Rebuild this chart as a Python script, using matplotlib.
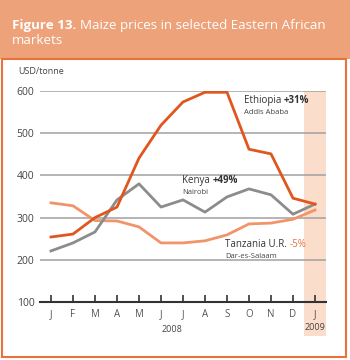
import matplotlib
matplotlib.use("Agg")
from matplotlib import pyplot as plt
from matplotlib.patches import Rectangle
from matplotlib.transforms import offset_copy

months = ["J", "F", "M", "A", "M", "J", "J", "A", "S", "O", "N", "D", "J"]
ethiopia = [254, 261, 300, 325, 441, 519, 574, 597, 597, 462, 451, 346, 332]
kenya = [221, 240, 266, 342, 380, 325, 342, 313, 349, 368, 354, 308, 332]
tanzania = [335, 328, 293, 292, 278, 240, 240, 245, 259, 285, 287, 296, 318]
yticks = [100, 200, 300, 400, 500, 600]

plt.rcParams['font.family'] = ['Open Sans', 'DejaVu Sans']

fig = plt.figure(figsize=(3.5, 3.6), dpi=100)
renderer = fig.canvas.get_renderer()


def text_run(x, y, parts, transform, **kw):
    # draw text pieces one after another on the same baseline
    t = transform
    for s, props in parts:
        opts = dict(kw)
        opts.update(props)
        txt = fig.text(x, y, s, transform=t, **opts)
        w = txt.get_window_extent(renderer).width
        t = offset_copy(txt.get_transform(), fig=fig, x=w, units='dots')


# header band and frame
fig.patches.append(Rectangle((0, 1 - 59/360), 1, 59/360, transform=fig.transFigure,
                             facecolor='#EDA27A', edgecolor='none', zorder=0))
fig.patches.append(Rectangle((2/350, 3/360), 344/350, (360 - 62)/360, transform=fig.transFigure,
                             facecolor='white', edgecolor='#E8733A', linewidth=1.5, zorder=0))
text_run(12/350, 1 - 25/360, [("Figure 13. ", dict(fontweight='bold')), ("Maize prices in selected Eastern African", {})],
         fig.transFigure, color='white', fontsize=9.6, va='center')
fig.text(12/350, 1 - 41/360, "markets", color='white', fontsize=9.6, va='center')

ax = fig.add_axes([40/350, 1 - 302/360, 286/350, 211/360], zorder=2)
x = range(len(months))

ax.axvspan(11.5, 12.5, ymin=-0.16, ymax=1, clip_on=False, color='#FBDDCB', zorder=0, lw=0)
for yv in yticks[1:]:
    ax.axhline(yv, color='#A0A0A0', lw=1.1, zorder=1)

ax.plot(x, tanzania, color='#F2946A', lw=2, zorder=3)
ax.plot(x, kenya, color='#8C8C8C', lw=2, zorder=3)
ax.plot(x, ethiopia, color='#E0561E', lw=2, zorder=4)

ax.set_xlim(-0.5, 12.5)
ax.set_ylim(100, 600)
ax.set_yticks(yticks)
ax.set_xticks(list(x))
ax.set_xticklabels(months)
for s in ['top', 'right', 'left']:
    ax.spines[s].set_visible(False)
ax.spines['bottom'].set_color('#333333')
ax.spines['bottom'].set_linewidth(1.5)
ax.tick_params(axis='x', direction='in', length=5, width=1.2, color='#333333',
               labelsize=7, labelcolor='#555555', pad=5)
ax.tick_params(axis='y', length=0, labelsize=7.5, labelcolor='#444444', pad=4)
ax.patch.set_alpha(0)

fig.text(18/350, 1 - 72/360, "USD/tonne", fontsize=6.5, color='#444444', va='center', zorder=3)
ax.text(5.5, -0.13, "2008", transform=ax.get_xaxis_transform(), ha='center', va='center',
        fontsize=6.5, color='#444444')
ax.text(12, -0.12, "2009", transform=ax.get_xaxis_transform(), ha='center', va='center',
        fontsize=6.5, color='#444444')

# series labels
lab = dict(fontsize=7, color='#333333', va='baseline', zorder=5)
text_run(8.75, 572, [("Ethiopia ", {}), ("+31%", dict(fontweight='bold'))], ax.transData, **lab)
ax.text(8.75, 546, "Addis Ababa", fontsize=5.5, color='#444444', va='baseline')
text_run(5.95, 381, [("Kenya ", {}), ("+49%", dict(fontweight='bold'))], ax.transData, **lab)
ax.text(5.95, 355, "Nairobi", fontsize=5.5, color='#444444', va='baseline')
text_run(7.9, 230, [("Tanzania U.R. ", {}), ("-5%", dict(color='#E8733A'))], ax.transData, **lab)
ax.text(7.9, 204, "Dar-es-Salaam", fontsize=5.5, color='#444444', va='baseline')

fig.savefig("out.png", dpi=100)
